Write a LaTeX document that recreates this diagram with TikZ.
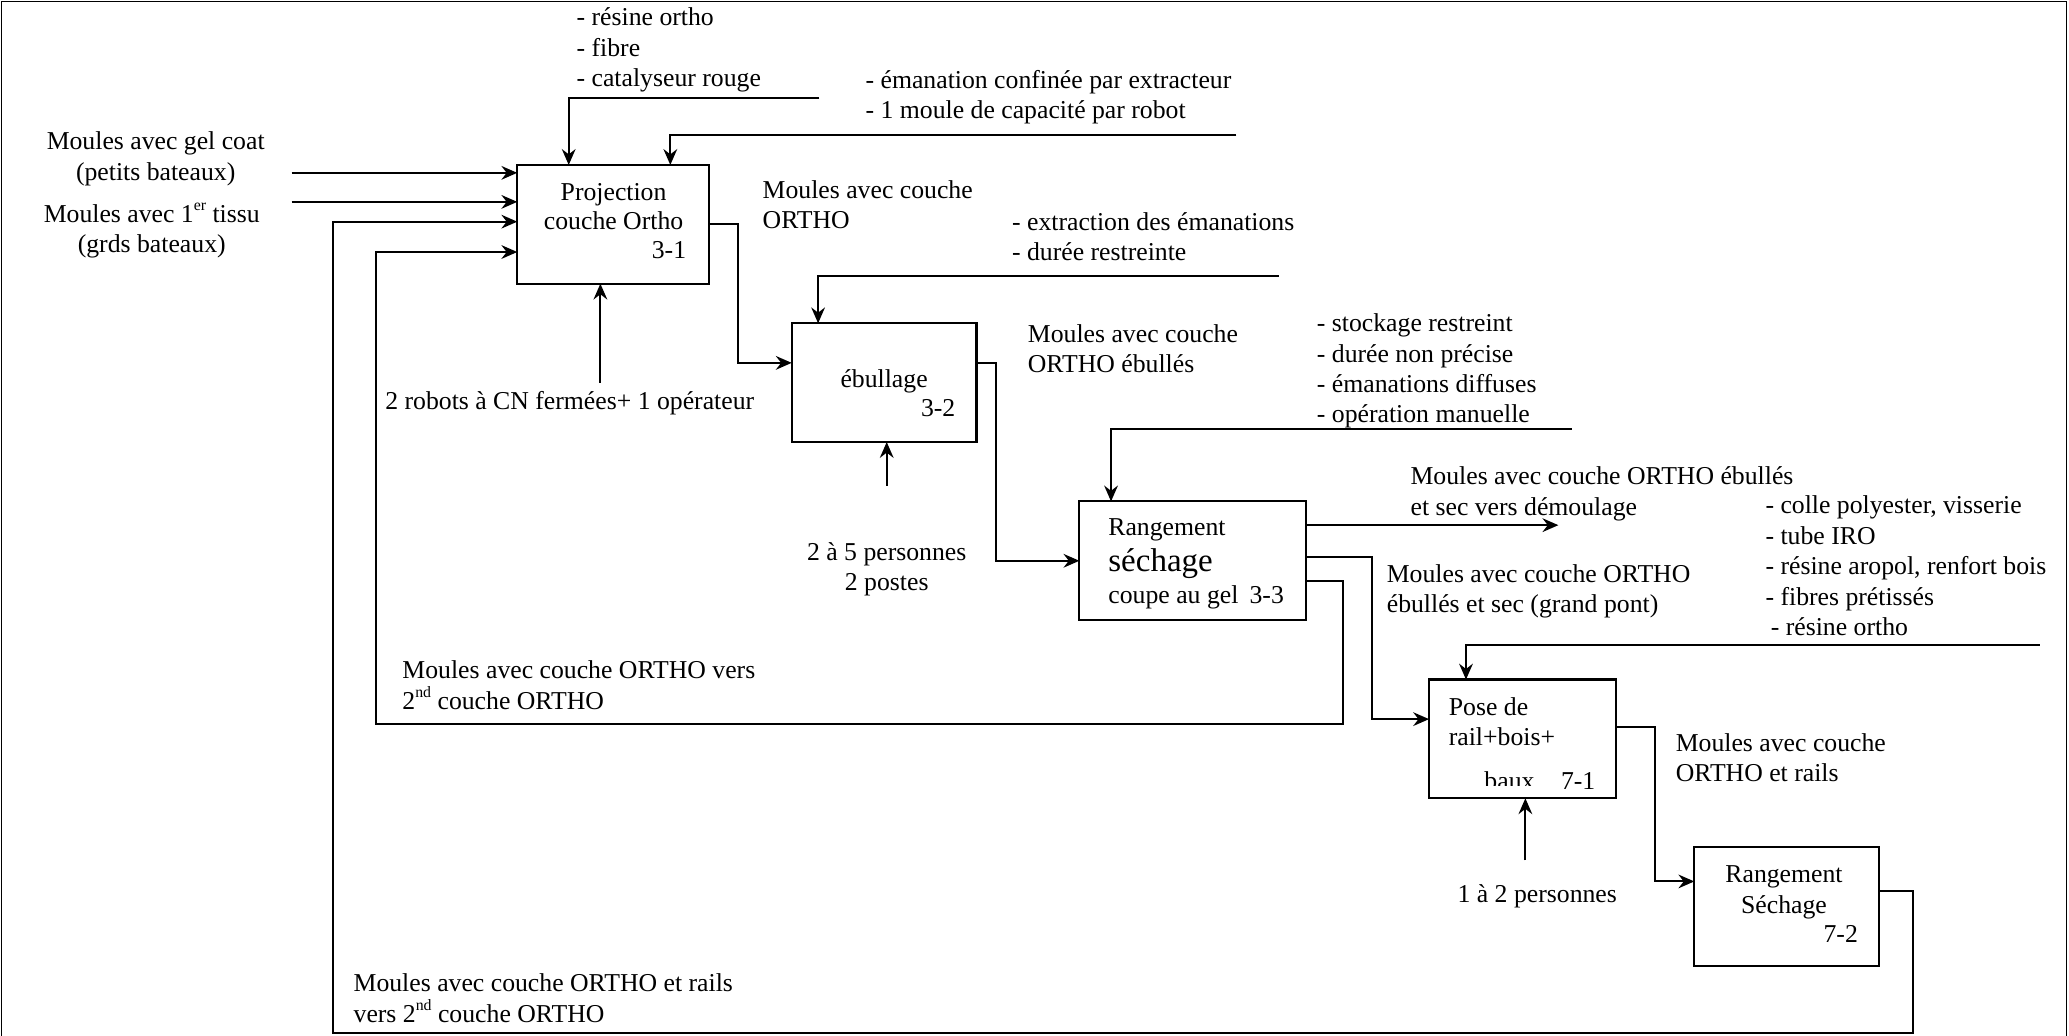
\documentclass[tikz,border=0pt]{standalone}
\usepackage{fontspec}
\setmainfont{Liberation Serif}
\usetikzlibrary{arrows.meta}
% small raised ordinal suffix
\newcommand\ordsup[1]{\raisebox{0.45em}{\fontsize{6}{6}\selectfont #1}}

\begin{document}
\begin{tikzpicture}[x=0.5pt,y=-0.5pt,
  every node/.style={font=\fontsize{9.75}{11.5}\selectfont, inner sep=0pt, outer sep=0pt},
  box/.style={draw, line width=0.8pt, minimum height=45pt},
  flow/.style={line width=0.75pt},
  arr/.style={flow, -{Stealth[length=6pt,width=5.2pt,inset=2pt]}},
  lbl/.style={anchor=north west, align=left, execute at begin node=\strut},
  clbl/.style={anchor=north, align=center, execute at begin node=\strut},
  boxtxt/.style={anchor=base},
]
\useasboundingbox (0,0) rectangle (1568,785);
% outer frame
\draw[line width=0.6pt] (1,800) -- (1,1) -- (1566,1) -- (1566,800);

% activity boxes
\node[box, minimum width=72.5pt] (p31) at (464.5,170) {};
\node[box, minimum width=70pt]   (p32) at (670,290) {};
\node[box, minimum width=86pt]   (p33) at (904,425) {};
\node[box, minimum width=71pt]   (p71) at (1154,560) {};
\node[box, minimum width=70pt]   (p72) at (1354,687) {};

% box texts
\node[boxtxt] (t31a) at (465,152) {Projection};
\node[boxtxt] (t31b) at (465,174) {couche Ortho};
\node[anchor=base east] (t31c) at (520,196) {3-1};
\node[boxtxt] (t32a) at (670,294) {ébullage};
\node[anchor=base east] (t32b) at (724,316) {3-2};
\node[anchor=base west] (t33a) at (840,406) {Rangement};
\node[anchor=base west, font=\fontsize{12.5}{14}\selectfont] (t33b) at (840,433) {séchage};
\node[anchor=base west] (t33c) at (840,457) {coupe au gel};
\node[anchor=base east] (t33d) at (973,457) {3-3};
\node[anchor=base west] (t71a) at (1098,542) {Pose de};
\node[anchor=base west] (t71b) at (1098,565) {rail+bois+};
\begin{scope}
  \clip (1100,570) rectangle (1180,595);
  \node[anchor=base west] (t71c) at (1125,598) {baux};
\end{scope}
\node[anchor=base east] (t71d) at (1209,598) {7-1};
\node[boxtxt] (t72a) at (1352,669) {Rangement};
\node[boxtxt] (t72b) at (1352,692) {Séchage};
\node[anchor=base east] (t72c) at (1408,714) {7-2};

% free ends of the connectors
\coordinate (in1) at (221,131);
\coordinate (in2) at (221,153);
\coordinate (c1) at (621,74);
\coordinate (c2) at (937,102);
\coordinate (c3) at (969,209);
\coordinate (c4) at (1191,325);
\coordinate (c5) at (1546,489);
\coordinate (m1) at (455,290);
\coordinate (m2) at (672,368);
\coordinate (m3) at (1156,652);
\coordinate (o1) at (1181,398);

% inputs of 3-1
\draw[arr] (in1) -- (in1 -| p31.west);
\draw[arr] (in2) -- (in2 -| p31.west);
% controls
\draw[arr] (c1) -| (431,0 |- p31.north);
\draw[arr] (c2) -| (508,0 |- p31.north);
\draw[arr] (c3) -| (620,0 |- p32.north);
\draw[arr] (c4) -| (842,0 |- p33.north);
\draw[arr] (c5) -| (1111,0 |- p71.north);
% mechanisms
\draw[arr] (m1) -- (m1 |- p31.south);
\draw[arr] (m2) -- (m2 |- p32.south);
\draw[arr] (m3) -- (m3 |- p71.south);
% flows between activities
\draw[arr] (p31.east) -- (559,170) |- (p32.west |- 0,275);
\draw[arr] (p32.east |- 0,275) -- (755,275) |- (p33.west);
\draw[arr] (p33.east |- 0,398) -- (o1);
\draw[arr] (p33.east |- 0,422) -- (1040,422) |- (p71.west |- 0,545);
\draw[arr] (p33.east |- 0,440) -- (1018,440) -- (1018,549) -- (285,549) -- (285,191) -- (p31.west |- 0,191);
\draw[arr] (p71.east |- 0,551) -- (1254,551) |- (p72.west |- 0,668);
\draw[arr] (p72.east |- 0,675) -- (1450,675) -- (1450,783) -- (252,783) -- (252,168) -- (p31.west |- 0,168);

% labels
\node[clbl] (l1) at (118,100) {Moules avec gel coat\\(petits bateaux)};
\node[clbl] (l2) at (115,154) {Moules avec 1\ordsup{er} tissu\\(grds bateaux)};
\node[lbl] (l3) at (437,6) {- résine ortho\\- fibre\\- catalyseur rouge};
\node[lbl] (l4) at (656,53) {- émanation confinée par extracteur\\- 1 moule de capacité par robot};
\node[lbl] (l5) at (578,137) {Moules avec couche\\ORTHO};
\node[lbl] (l6) at (767,161) {- extraction des émanations\\- durée restreinte};
\node[lbl] (l7) at (779,246) {Moules avec couche\\ORTHO ébullés};
\node[lbl] (l8) at (998,238) {- stockage restreint\\- durée non précise\\- émanations diffuses\\- opération manuelle};
\node[lbl] (l9) at (1069,354) {Moules avec couche ORTHO ébullés\\et sec vers démoulage};
\node[lbl] (l10) at (1051,428) {Moules avec couche ORTHO\\ébullés et sec (grand pont)};
\node[lbl] (l11) at (1338,376) {- colle polyester, visserie\\- tube IRO\\- résine aropol, renfort bois\\- fibres prétissés\\\hspace{2pt}- résine ortho};
\node[lbl] (l12) at (1270,556) {Moules avec couche\\ORTHO et rails};
\node[lbl] (l13) at (305,501) {Moules avec couche ORTHO vers\\2\ordsup{nd} couche ORTHO};
\node[lbl] (l14) at (268,738) {Moules avec couche ORTHO et rails\\vers 2\ordsup{nd} couche ORTHO};
\node[lbl] (l15) at (292,294) {2 robots à CN fermées+ 1 opérateur};
\node[clbl] (l16) at (672,411) {2 à 5 personnes\\2 postes};
\node[clbl] (l17) at (1165,668) {1 à 2 personnes};
\end{tikzpicture}
\end{document}
